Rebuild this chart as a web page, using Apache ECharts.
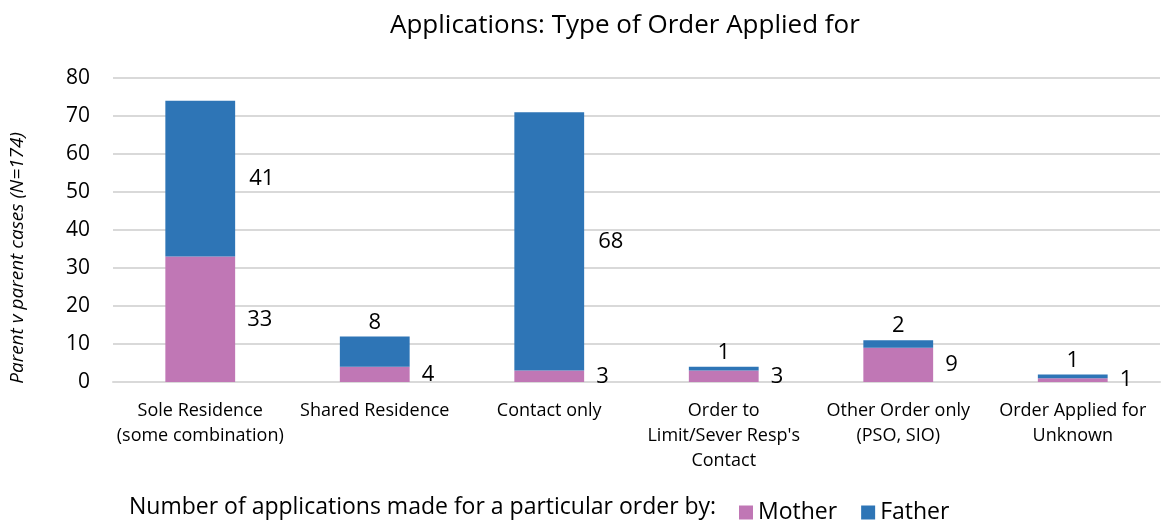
<!DOCTYPE html>
<html>
<head>
<meta charset="utf-8">
<script src="https://cdn.jsdelivr.net/npm/echarts@6/dist/echarts.min.js"></script>
<style>
  html, body { margin: 0; padding: 0; background: #fff; }
  #chart { width: 1162px; height: 525px; }
</style>
</head>
<body>
<div id="chart"></div>
<script>
var categories = [
    'Sole Residence\n(some combination)',
    'Shared Residence',
    'Contact only',
    'Order to\nLimit/Sever Resp\'s\nContact',
    'Other Order only\n(PSO, SIO)',
    'Order Applied for\nUnknown'
];
var mother = [33, 4, 3, 3, 9, 1];
var father = [41, 8, 68, 1, 2, 1];
var yTicks = [0, 10, 20, 30, 40, 50, 60, 70, 80];

var FONT = '"Open Sans", sans-serif';

var chart = echarts.init(document.getElementById('chart'));

// small father segments get their label on top, like the excel original
var fatherData = father.map(function(v) {
    return {
        value: v,
        label: v > 20 ? { position: 'right', distance: 14 } : { position: 'top', distance: 3 }
    };
});

chart.setOption({
    animation: false,
    textStyle: { fontFamily: FONT },
    title: {
        text: 'Applications: Type of Order Applied for',
        left: 385,
        top: 8,
        textStyle: { fontFamily: FONT, fontSize: 26, fontWeight: 'normal', color: '#000' }
    },
    legend: {
        left: 734,
        top: 496,
        itemWidth: 14,
        itemHeight: 14,
        itemGap: 24,
        icon: 'rect',
        textStyle: { fontFamily: FONT, fontSize: 23, color: '#000' },
        data: ['Mother', 'Father']
    },
    graphic: [{
        type: 'text',
        left: 129,
        top: 496,
        style: {
            text: 'Number of applications made for a particular order by:',
            font: '23px ' + FONT,
            fill: '#000'
        }
    }],
    grid: { left: 112, right: 2, top: 78, bottom: 143 },
    xAxis: {
        type: 'category',
        data: categories,
        axisLine: { lineStyle: { color: '#d9d9d9', width: 2 } },
        axisTick: { show: false },
        axisLabel: {
            interval: 0,
            margin: 16,
            fontSize: 18,
            lineHeight: 25,
            color: '#000',
            fontFamily: FONT
        }
    },
    yAxis: {
        type: 'value',
        min: yTicks[0],
        max: yTicks[yTicks.length - 1],
        interval: 10,
        name: 'Parent v parent cases (N=174)',
        nameLocation: 'middle',
        nameGap: 86,
        nameTextStyle: { fontFamily: FONT, fontSize: 19, fontStyle: 'italic', color: '#000', padding: [0, 0, 0, -56] },
        axisLine: { show: false },
        axisTick: { show: false },
        axisLabel: { fontSize: 21, color: '#000', margin: 23, fontFamily: FONT },
        splitLine: { lineStyle: { color: '#d9d9d9', width: 2 } }
    },
    series: [{
        name: 'Mother',
        type: 'bar',
        stack: 'total',
        barWidth: '40%',
        data: mother,
        itemStyle: { color: '#c077b5' },
        label: {
            show: true,
            position: 'right',
            distance: 12,
            fontSize: 22,
            color: '#000',
            fontFamily: FONT
        }
    }, {
        name: 'Father',
        type: 'bar',
        stack: 'total',
        barWidth: '40%',
        data: fatherData,
        itemStyle: { color: '#2e75b6' },
        label: {
            show: true,
            fontSize: 22,
            color: '#000',
            fontFamily: FONT
        }
    }]
});
</script>
</body>
</html>
